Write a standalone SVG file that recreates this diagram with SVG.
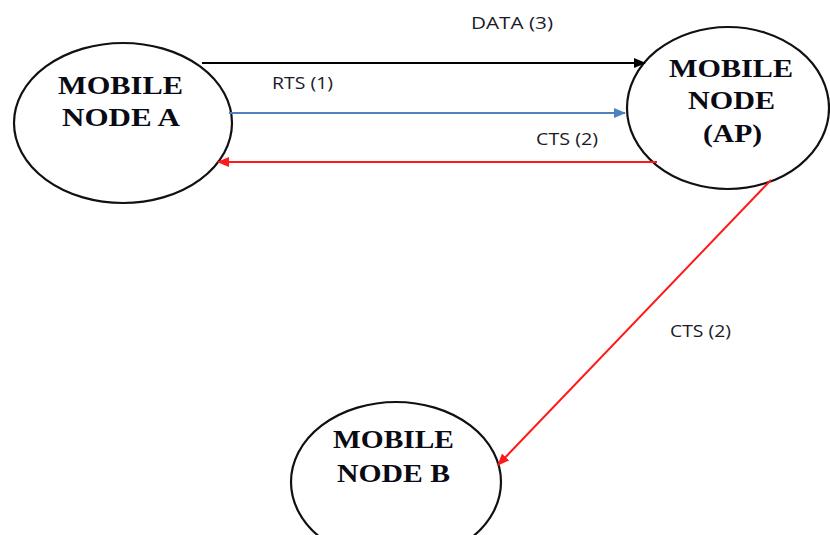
<svg xmlns="http://www.w3.org/2000/svg" width="830" height="535" viewBox="0 0 830 535">
<style>
.node{fill:#fff;stroke:#111;stroke-width:2.2}
.nt{font-family:"Liberation Serif","Times New Roman",serif;font-weight:bold;font-size:25px;fill:#0a0a14}
.lbl{font-family:"Open Sans","Liberation Sans",sans-serif;font-size:17px;fill:#1a1a2a}
.c{fill:none;stroke-width:2}
</style>
<defs>
<marker id="ak" markerWidth="12" markerHeight="10" refX="11" refY="5" orient="auto" markerUnits="userSpaceOnUse"><path d="M0,0 L12,5 L0,10 Z" fill="#000"/></marker>
<marker id="ab" markerWidth="12" markerHeight="10" refX="11" refY="5" orient="auto" markerUnits="userSpaceOnUse"><path d="M0,0 L12,5 L0,10 Z" fill="#4f81bd"/></marker>
<marker id="ar" markerWidth="12" markerHeight="10" refX="11" refY="5" orient="auto" markerUnits="userSpaceOnUse"><path d="M0,0 L12,5 L0,10 Z" fill="#ff1a1a"/></marker>
</defs>
<rect width="830" height="535" fill="#fff"/>
<g id="nodeA">
<ellipse class="node" cx="123" cy="123" rx="109" ry="80"/>
<text class="nt" x="58" y="94" textLength="125" lengthAdjust="spacingAndGlyphs">MOBILE</text>
<text class="nt" x="62" y="126" textLength="118" lengthAdjust="spacingAndGlyphs">NODE A</text>
</g>
<g id="nodeAP">
<ellipse class="node" cx="728" cy="108" rx="101" ry="81"/>
<text class="nt" x="669" y="77" textLength="124" lengthAdjust="spacingAndGlyphs">MOBILE</text>
<text class="nt" x="688" y="109" textLength="87" lengthAdjust="spacingAndGlyphs">NODE</text>
<text class="nt" x="703" y="142" textLength="59" lengthAdjust="spacingAndGlyphs">(AP)</text>
</g>
<g id="nodeB">
<ellipse class="node" cx="396" cy="482" rx="105" ry="80"/>
<text class="nt" x="333" y="448" textLength="121" lengthAdjust="spacingAndGlyphs">MOBILE</text>
<text class="nt" x="337" y="482" textLength="113" lengthAdjust="spacingAndGlyphs">NODE B</text>
</g>
<g id="connectors">
<line class="c" x1="202" y1="63" x2="645" y2="63" stroke="#000" marker-end="url(#ak)"/>
<line class="c" x1="229" y1="113" x2="625" y2="113" stroke="#4f81bd" marker-end="url(#ab)"/>
<line class="c" x1="657" y1="162" x2="218" y2="162" stroke="#ff1a1a" marker-end="url(#ar)"/>
<line class="c" x1="771" y1="180" x2="498" y2="465" stroke="#ff1a1a" marker-end="url(#ar)"/>
<text class="lbl" x="471" y="29" textLength="82" lengthAdjust="spacingAndGlyphs">DATA (3)</text>
<text class="lbl" x="272" y="89" textLength="61" lengthAdjust="spacingAndGlyphs">RTS (1)</text>
<text class="lbl" x="536" y="145" textLength="62" lengthAdjust="spacingAndGlyphs">CTS (2)</text>
<text class="lbl" x="670" y="337" textLength="61" lengthAdjust="spacingAndGlyphs">CTS (2)</text>
</g>
</svg>
